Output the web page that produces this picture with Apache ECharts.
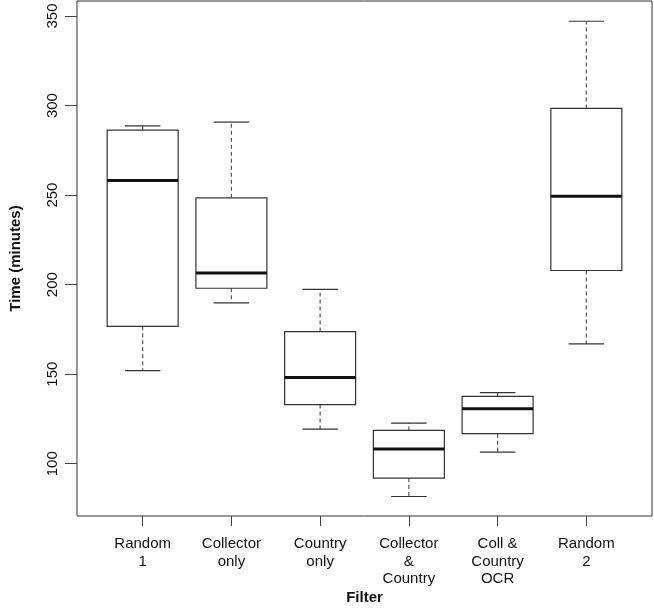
<!DOCTYPE html>
<html>
<head>
<meta charset="utf-8">
<script src="https://cdn.jsdelivr.net/npm/echarts@6/dist/echarts.min.js"></script>
<style>
html,body{margin:0;padding:0;background:#fff;}
#chart{width:654px;height:608px;}
</style>
</head>
<body>
<div id="chart"></div>
<script>
// Data
var categories = ['Random\n1', 'Collector\nonly', 'Country\nonly', 'Collector\n&\nCountry', 'Coll &\nCountry\nOCR', 'Random\n2'];
var whiskerLow  = [152.0, 189.8, 119.3, 81.7, 106.5, 166.9];
var q1          = [176.7, 198.0, 133.0, 92.0, 116.8, 207.9];
var medians     = [258.2, 206.5, 148.2, 108.2, 130.7, 249.4];
var q3          = [286.3, 248.5, 173.8, 118.6, 137.6, 298.4];
var whiskerHigh = [288.7, 290.8, 197.4, 122.7, 139.7, 347.1];
var yTicks = [100, 150, 200, 250, 300, 350];
var xTicks = [1, 2, 3, 4, 5, 6];

var seriesData = categories.map(function (c, i) {
  return [i + 1, whiskerLow[i], q1[i], medians[i], q3[i], whiskerHigh[i]];
});

var chart = echarts.init(document.getElementById('chart'), null, {renderer: 'canvas'});
var FONT = 'Liberation Sans, Arial, sans-serif';
var BOXW = 0.4, CAPW = 0.2;

function renderBox(params, api) {
  var x = api.value(0);
  var lo = api.value(1), a = api.value(2), m = api.value(3), b = api.value(4), hi = api.value(5);
  var cx = api.coord([x, m])[0];
  var xl = api.coord([x - BOXW, m])[0];
  var xr = api.coord([x + BOXW, m])[0];
  var cl = api.coord([x - CAPW, m])[0];
  var cr = api.coord([x + CAPW, m])[0];
  var yLo = api.coord([x, lo])[1], yA = api.coord([x, a])[1], yM = api.coord([x, m])[1];
  var yB = api.coord([x, b])[1], yHi = api.coord([x, hi])[1];
  var solid = {stroke: '#333', lineWidth: 1.2, fill: null};
  var dashed = {stroke: '#555', lineWidth: 1.2, lineDash: [4, 3], fill: null};
  return {
    type: 'group',
    children: [
      {type: 'line', shape: {x1: cx, y1: yB, x2: cx, y2: yHi}, style: dashed},
      {type: 'line', shape: {x1: cx, y1: yA, x2: cx, y2: yLo}, style: dashed},
      {type: 'line', shape: {x1: cl, y1: yHi, x2: cr, y2: yHi}, style: solid},
      {type: 'line', shape: {x1: cl, y1: yLo, x2: cr, y2: yLo}, style: solid},
      {type: 'rect', shape: {x: xl, y: yB, width: xr - xl, height: yA - yB}, style: {stroke: '#333', lineWidth: 1.2, fill: '#fff'}},
      {type: 'line', shape: {x1: xl, y1: yM, x2: xr, y2: yM}, style: {stroke: '#111', lineWidth: 3}}
    ]
  };
}

chart.setOption({
  animation: false,
  backgroundColor: '#fff',
  grid: {left: 77, top: 1, width: 575, height: 515, containLabel: false, outerBoundsMode: 'none',
         show: true, borderColor: '#333', borderWidth: 1, backgroundColor: 'transparent'},
  xAxis: {
    type: 'value', min: 0.26, max: 6.74,
    name: 'Filter', nameLocation: 'middle', nameGap: 74, nameMoveOverlap: false,
    nameTextStyle: {fontFamily: FONT, fontWeight: 'bold', fontSize: 15, color: '#111'},
    axisLine: {show: false},
    splitLine: {show: false},
    axisTick: {show: true, length: 10, customValues: xTicks, lineStyle: {color: '#444'}},
    axisLabel: {
      customValues: xTicks, margin: 19, lineHeight: 17.7,
      fontFamily: FONT, fontSize: 15, color: '#111',
      formatter: function (v) { return categories[Math.round(v) - 1] || ''; }
    }
  },
  yAxis: {
    type: 'value', min: 70.8, max: 358.4,
    name: 'Time (minutes)', nameLocation: 'middle', nameGap: 54, nameRotate: 90, nameMoveOverlap: false,
    nameTextStyle: {fontFamily: FONT, fontWeight: 'bold', fontSize: 15, color: '#111'},
    axisLine: {show: false},
    splitLine: {show: false},
    axisTick: {show: true, length: 12, customValues: yTicks, lineStyle: {color: '#444'}},
    axisLabel: {
      customValues: yTicks, rotate: 90, margin: 17,
      fontFamily: FONT, fontSize: 15, color: '#111'
    }
  },
  series: [{
    type: 'custom',
    renderItem: renderBox,
    encode: {x: 0, y: [1, 2, 3, 4, 5]},
    data: seriesData,
    clip: true
  }]
});
</script>
</body>
</html>
